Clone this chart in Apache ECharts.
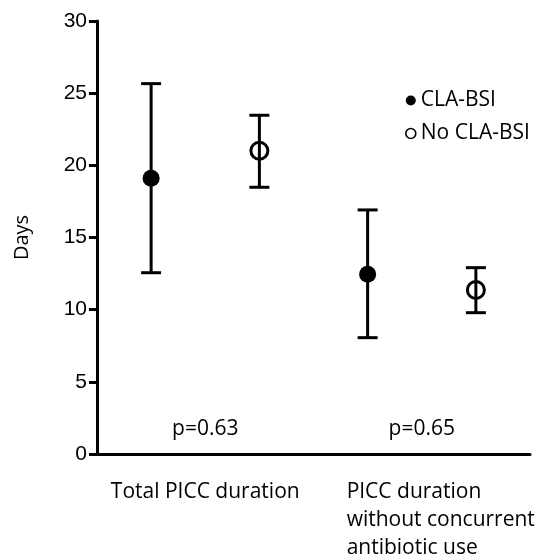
<!DOCTYPE html>
<html>
<head>
<meta charset="utf-8">
<script src="https://cdn.jsdelivr.net/npm/echarts@6/dist/echarts.min.js"></script>
<style>
  html, body { margin: 0; padding: 0; background: #fff; }
  #main { width: 541px; height: 560px; }
</style>
</head>
<body>
<div id="main"></div>
<script>
  // groups on the x axis
  const groups = ['Total PICC duration', 'PICC duration\nwithout concurrent\nantibiotic use']
  const pValues = ['p=0.63', 'p=0.65']

  // mean and error bar ends, in days
  const claMean = [19.1, 12.45]
  const claLow = [12.56, 8.06]
  const claHigh = [25.66, 16.91]
  const noMean = [21.01, 11.36]
  const noLow = [18.48, 9.79]
  const noHigh = [23.47, 12.91]

  const yTicks = { min: 0, max: 30, interval: 5 }

  // two slots per group: CLA-BSI then No CLA-BSI
  const slots = []
  groups.forEach((g, i) => { slots.push(i + '-cla', i + '-no') })

  const claPoints = claMean.map((v, i) => [i * 2, v])
  const noPoints = noMean.map((v, i) => [i * 2 + 1, v])
  const bars = []
  claMean.forEach((v, i) => { bars.push([i * 2, claLow[i], claHigh[i]]) })
  noMean.forEach((v, i) => { bars.push([i * 2 + 1, noLow[i], noHigh[i]]) })

  const chart = echarts.init(document.getElementById('main'))
  const labelFont = '"Open Sans", "Noto Sans", sans-serif'

  chart.setOption({
    animation: false,
    grid: { left: 97, right: 11, top: 21, bottom: 106 },
    legend: {
      orient: 'vertical',
      left: 400,
      top: 85,
      itemGap: 12,
      itemWidth: 10,
      itemHeight: 10,
      textStyle: { fontFamily: labelFont, fontSize: 21, color: '#000' },
      data: [
        { name: 'CLA-BSI', icon: 'circle' },
        { name: 'No CLA-BSI', icon: 'circle', itemStyle: { borderWidth: 1.6, color: '#fff', borderColor: '#000' } }
      ]
    },
    xAxis: {
      type: 'category',
      data: slots,
      boundaryGap: true,
      axisLine: { lineStyle: { color: '#000', width: 3 } },
      axisTick: { alignWithLabel: true, length: 8, lineStyle: { color: '#000', width: 3 } },
      axisLabel: { show: false },
      splitLine: { show: false }
    },
    yAxis: {
      type: 'value',
      min: yTicks.min,
      max: yTicks.max,
      interval: yTicks.interval,
      name: 'Days',
      nameLocation: 'middle',
      nameGap: 65,
      nameTextStyle: { fontFamily: labelFont, fontSize: 20, color: '#000' },
      axisLine: { show: true, lineStyle: { color: '#000', width: 3 } },
      axisTick: { show: true, length: 8, lineStyle: { color: '#000', width: 3 } },
      axisLabel: { fontFamily: 'Liberation Sans, Arial, sans-serif', fontSize: 21, color: '#000', margin: 10 },
      splitLine: { show: false }
    },
    series: [
      {
        type: 'custom',
        name: 'errors',
        data: bars,
        z: 1,
        renderItem (params, api) {
          const x = api.value(0)
          const lo = api.coord([x, api.value(1)])
          const hi = api.coord([x, api.value(2)])
          const half = 10
          const style = { stroke: '#000', lineWidth: 3 }
          return {
            type: 'group',
            children: [
              { type: 'line', shape: { x1: lo[0], y1: lo[1], x2: hi[0], y2: hi[1] }, style },
              { type: 'line', shape: { x1: hi[0] - half, y1: hi[1], x2: hi[0] + half, y2: hi[1] }, style },
              { type: 'line', shape: { x1: lo[0] - half, y1: lo[1], x2: lo[0] + half, y2: lo[1] }, style }
            ]
          }
        }
      },
      {
        type: 'scatter',
        name: 'CLA-BSI',
        data: claPoints,
        symbol: 'circle',
        symbolSize: 17,
        z: 3,
        itemStyle: { color: '#000', opacity: 1 }
      },
      {
        type: 'scatter',
        name: 'No CLA-BSI',
        data: noPoints,
        symbol: 'circle',
        symbolSize: 17,
        z: 3,
        itemStyle: { color: 'rgba(255,255,255,0)', borderColor: '#000', borderWidth: 3, opacity: 1 }
      }
    ]
  })

  // group labels and p values placed from the axis positions
  const texts = []
  groups.forEach((g, i) => {
    const a = chart.convertToPixel({ xAxisIndex: 0 }, slots[i * 2])
    const b = chart.convertToPixel({ xAxisIndex: 0 }, slots[i * 2 + 1])
    const mid = (a + b) / 2
    const py = chart.convertToPixel({ yAxisIndex: 0 }, 1.7)
    texts.push({
      type: 'text', x: mid, y: py,
      style: { text: pValues[i], font: '21px ' + labelFont, fill: '#000', align: 'center', verticalAlign: 'middle' }
    })
    const multi = g.indexOf('\n') >= 0
    texts.push({
      type: 'text', x: multi ? a - 21 : mid, y: 478,
      style: { text: g, font: '21px ' + labelFont, lineHeight: 28, fill: '#000', align: multi ? 'left' : 'center', verticalAlign: 'top' }
    })
  })
  chart.setOption({ graphic: texts })
</script>
</body>
</html>
